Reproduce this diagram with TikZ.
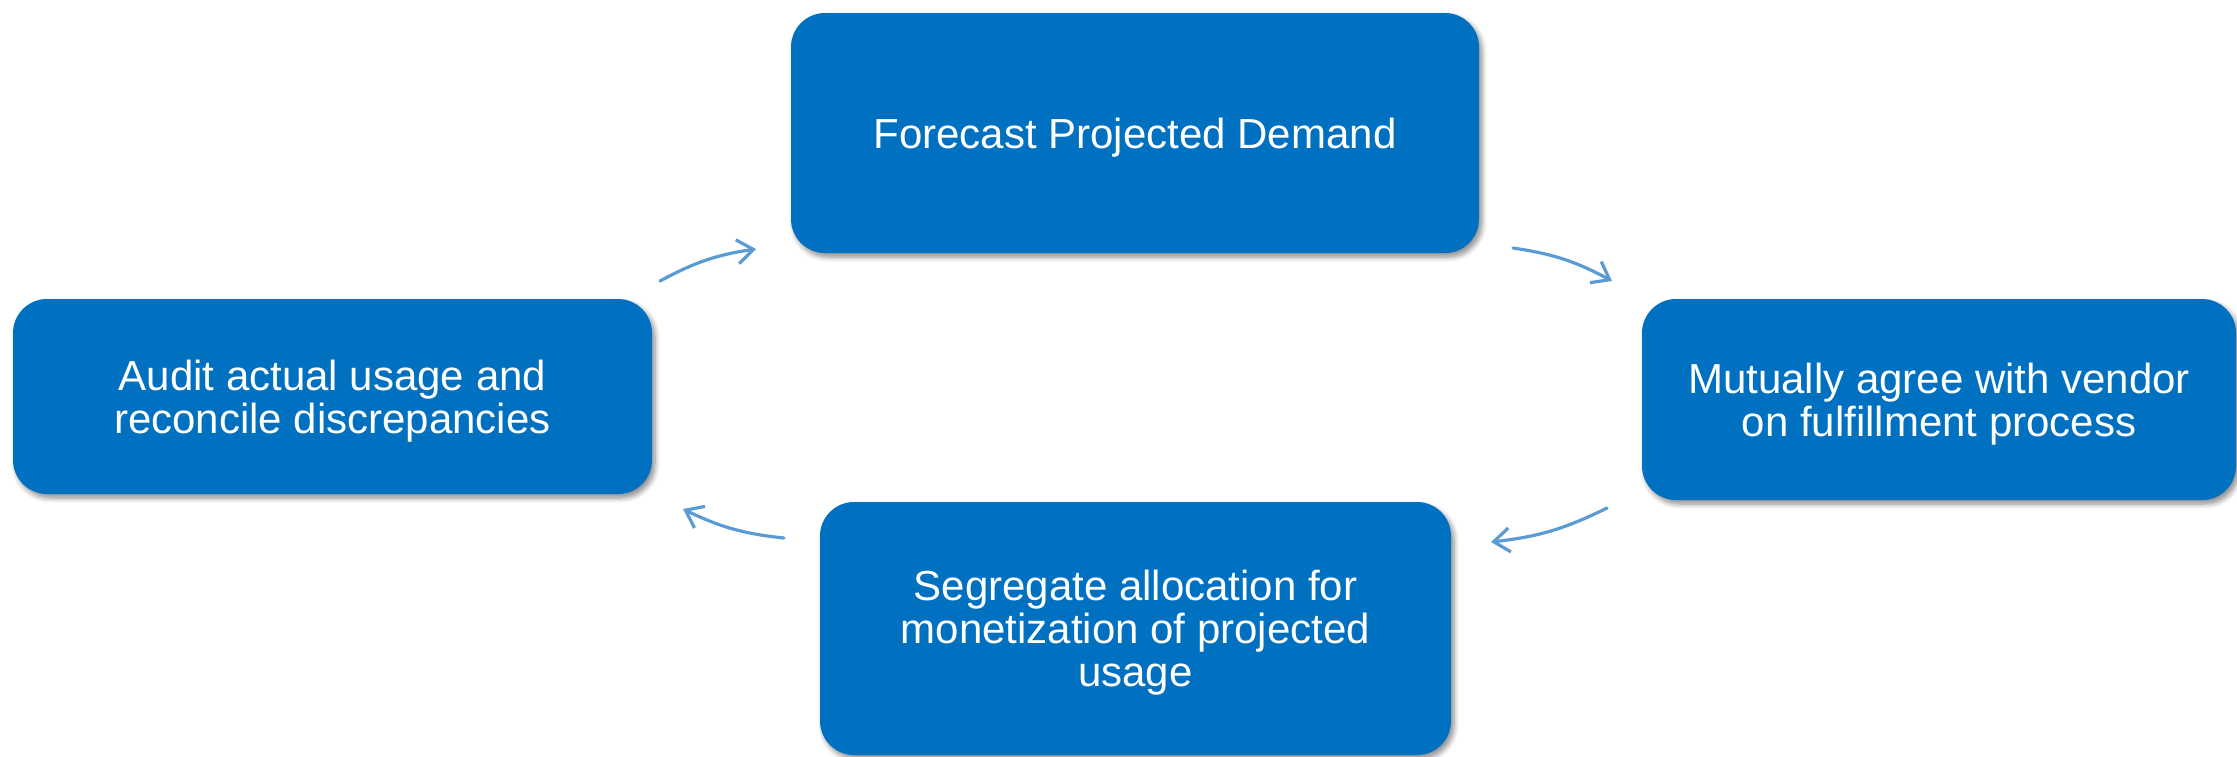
\documentclass[tikz,border=0pt]{standalone}
\usepackage{fontspec}
\setmainfont{Liberation Sans}
\usetikzlibrary{arrows.meta,shadows.blur}
\definecolor{boxblue}{RGB}{0,112,192}
\definecolor{arrowblue}{RGB}{91,155,213}
\tikzset{
  stepbox/.style={fill=boxblue, draw=none, rounded corners=17pt, inner sep=0pt,
    text=white, align=center, text depth=0pt, font=\fontsize{21pt}{21.5pt}\selectfont,
    blur shadow={shadow xshift=1.5pt, shadow yshift=-2pt, shadow blur steps=6, shadow opacity=45, shadow blur radius=2.5pt}},
  flow/.style={draw=arrowblue, line width=1.6pt, line cap=round,
    -{Straight Barb[length=8pt,width=12pt,line width=1.6pt]}, bend left=10}
}
\begin{document}
\begin{tikzpicture}[x=0.5pt,y=-0.5pt]
\useasboundingbox (0,0) rectangle (2237,756);
\node[stepbox, minimum width=344pt, minimum height=120pt] (top) at (1135,133) {Forecast Projected Demand};
\node[stepbox, minimum width=297pt, minimum height=100.5pt] (right) at (1939,399.5) {Mutually agree with vendor\\on fulfillment process};
\node[stepbox, minimum width=315.5pt, minimum height=126.5pt] (bottom) at (1135.5,628.5) {Segregate allocation for\\monetization of projected\\usage};
\node[stepbox, minimum width=319.5pt, minimum height=97.5pt] (left) at (332.5,396.5) {Audit actual usage and\\reconcile discrepancies};
\coordinate (a1s) at (660,281);
\coordinate (a1e) at (756,249);
\coordinate (a2s) at (1513,248);
\coordinate (a2e) at (1612,281);
\coordinate (a3s) at (1607,508);
\coordinate (a3e) at (1491,542);
\coordinate (a4s) at (784,538);
\coordinate (a4e) at (683,509);
\draw[flow] (a1s) to (a1e);
\draw[flow] (a2s) to (a2e);
\draw[flow] (a3s) to (a3e);
\draw[flow] (a4s) to (a4e);
\end{tikzpicture}
\end{document}
